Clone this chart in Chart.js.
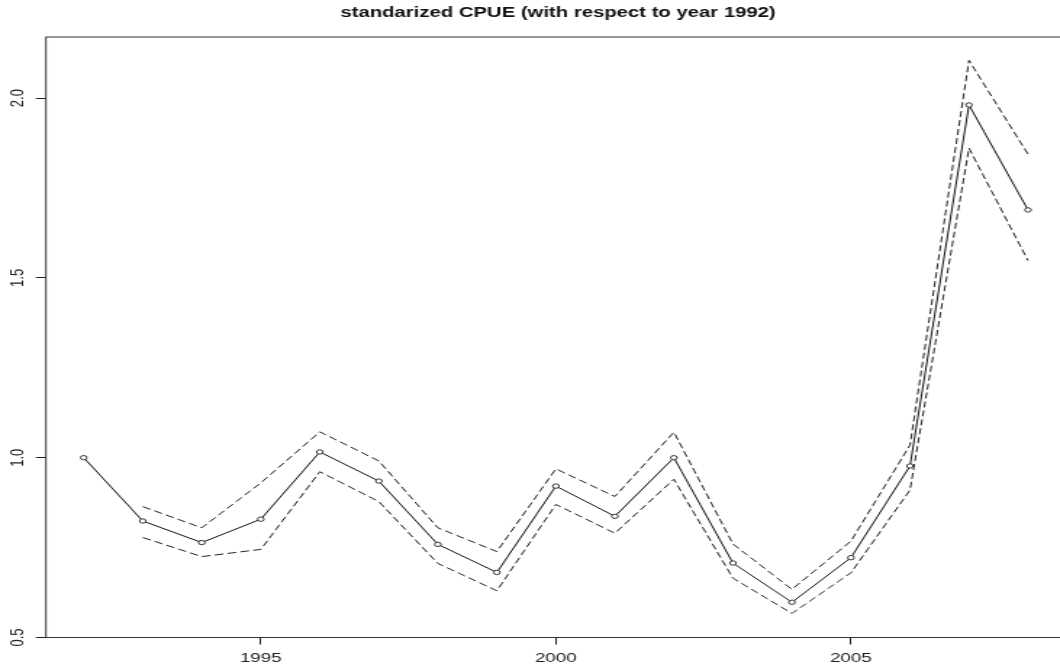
<!DOCTYPE html>
<html>
<head>
<meta charset="utf-8">
<script src="https://cdn.jsdelivr.net/npm/chart.js@4/dist/chart.umd.min.js"></script>
<style>
  html, body { margin: 0; padding: 0; background: #fff; overflow: hidden; }
  #wrap { width: 740px; height: 670px; transform: scaleX(1.45); transform-origin: 0 0; }
  canvas { display: block; }
</style>
</head>
<body>
<div id="wrap"><canvas id="cpue" width="740" height="670"></canvas></div>
<script>
// Standardized CPUE index, relative to 1992, with its confidence band
const years = [1992, 1993, 1994, 1995, 1996, 1997, 1998, 1999, 2000,
               2001, 2002, 2003, 2004, 2005, 2006, 2007, 2008];
const cpue  = [1.000, 0.824, 0.764, 0.829, 1.016, 0.935, 0.759, 0.681, 0.921,
               0.837, 1.000, 0.707, 0.598, 0.722, 0.977, 1.981, 1.689];
const upper = [null, 0.864, 0.805, 0.930, 1.072, 0.991, 0.805, 0.739, 0.969,
               0.892, 1.071, 0.760, 0.634, 0.768, 1.035, 2.105, 1.844];
const lower = [null, 0.778, 0.725, 0.745, 0.961, 0.878, 0.706, 0.630, 0.870,
               0.790, 0.940, 0.665, 0.567, 0.680, 0.910, 1.861, 1.548];
const xTicks = [1995, 2000, 2005];
const yTicks = [0.5, 1.0, 1.5, 2.0];

const toPoints = (vals) => years.map((yr, i) => ({ x: yr, y: vals[i] }));
const fontFamily = "'Liberation Sans', Arial, sans-serif";

// frame around the plotting region
const frame = {
  id: 'frame',
  afterDraw(chart) {
    const { ctx, chartArea: a } = chart;
    ctx.save();
    ctx.strokeStyle = '#333';
    ctx.lineWidth = 1;
    ctx.strokeRect(a.left, a.top, a.right - a.left, a.bottom - a.top);
    ctx.restore();
  }
};

// y tick labels written parallel to the axis, reading upward
const yLabels = {
  id: 'yLabels',
  afterDraw(chart) {
    const scale = chart.scales.y;
    const { ctx } = chart;
    ctx.save();
    ctx.fillStyle = '#222';
    ctx.font = '13px ' + fontFamily;
    ctx.textAlign = 'center';
    ctx.textBaseline = 'middle';
    scale.ticks.forEach((t) => {
      const py = scale.getPixelForValue(t.value);
      ctx.save();
      ctx.translate(scale.right - 19.5, py);
      ctx.rotate(-Math.PI / 2);
      ctx.fillText(t.value.toFixed(1), 0, 0);
      ctx.restore();
    });
    ctx.restore();
  }
};

new Chart(document.getElementById('cpue'), {
  type: 'line',
  data: {
    datasets: [
      {
        data: toPoints(cpue),
        borderColor: '#111',
        borderWidth: 1,
        pointRadius: 2.2,
        pointBorderWidth: 1,
        pointBorderColor: '#333',
        pointBackgroundColor: '#fff',
        tension: 0
      },
      {
        data: toPoints(upper),
        borderColor: '#222',
        borderWidth: 1,
        borderDash: [6, 3],
        pointRadius: 0,
        tension: 0
      },
      {
        data: toPoints(lower),
        borderColor: '#222',
        borderWidth: 1,
        borderDash: [6, 3],
        pointRadius: 0,
        tension: 0
      }
    ]
  },
  options: {
    responsive: false,
    animation: false,
    events: [],
    layout: { padding: { left: 31.7, right: 2, top: 0, bottom: 0 } },
    plugins: {
      legend: { display: false },
      tooltip: { enabled: false },
      title: {
        display: true,
        text: 'standarized CPUE (with respect to year 1992)',
        color: '#111',
        font: { family: fontFamily, size: 14, weight: 'bold' },
        padding: { top: 5, bottom: 15.2 }
      }
    },
    scales: {
      x: {
        type: 'linear',
        min: 1991.36,
        max: 2008.64,
        afterBuildTicks(scale) { scale.ticks = xTicks.map(v => ({ value: v })); },
        afterFit(scale) { scale.height = 32.5; },
        grid: { drawOnChartArea: false, drawTicks: true, tickLength: 7, color: '#222' },
        border: { display: false },
        ticks: {
          color: '#222',
          font: { family: fontFamily, size: 13 },
          padding: 6,
          maxRotation: 0,
          autoSkip: false,
          callback: (v) => String(v)
        }
      },
      y: {
        type: 'linear',
        min: 0.5,
        max: 2.17,
        afterBuildTicks(scale) { scale.ticks = yTicks.map(v => ({ value: v })); },
        afterFit(scale) { scale.width = 0; },
        grid: { drawOnChartArea: false, drawTicks: true, tickLength: 7, color: '#222' },
        border: { display: false },
        ticks: { display: false }
      }
    }
  },
  plugins: [frame, yLabels]
});
</script>
</body>
</html>
